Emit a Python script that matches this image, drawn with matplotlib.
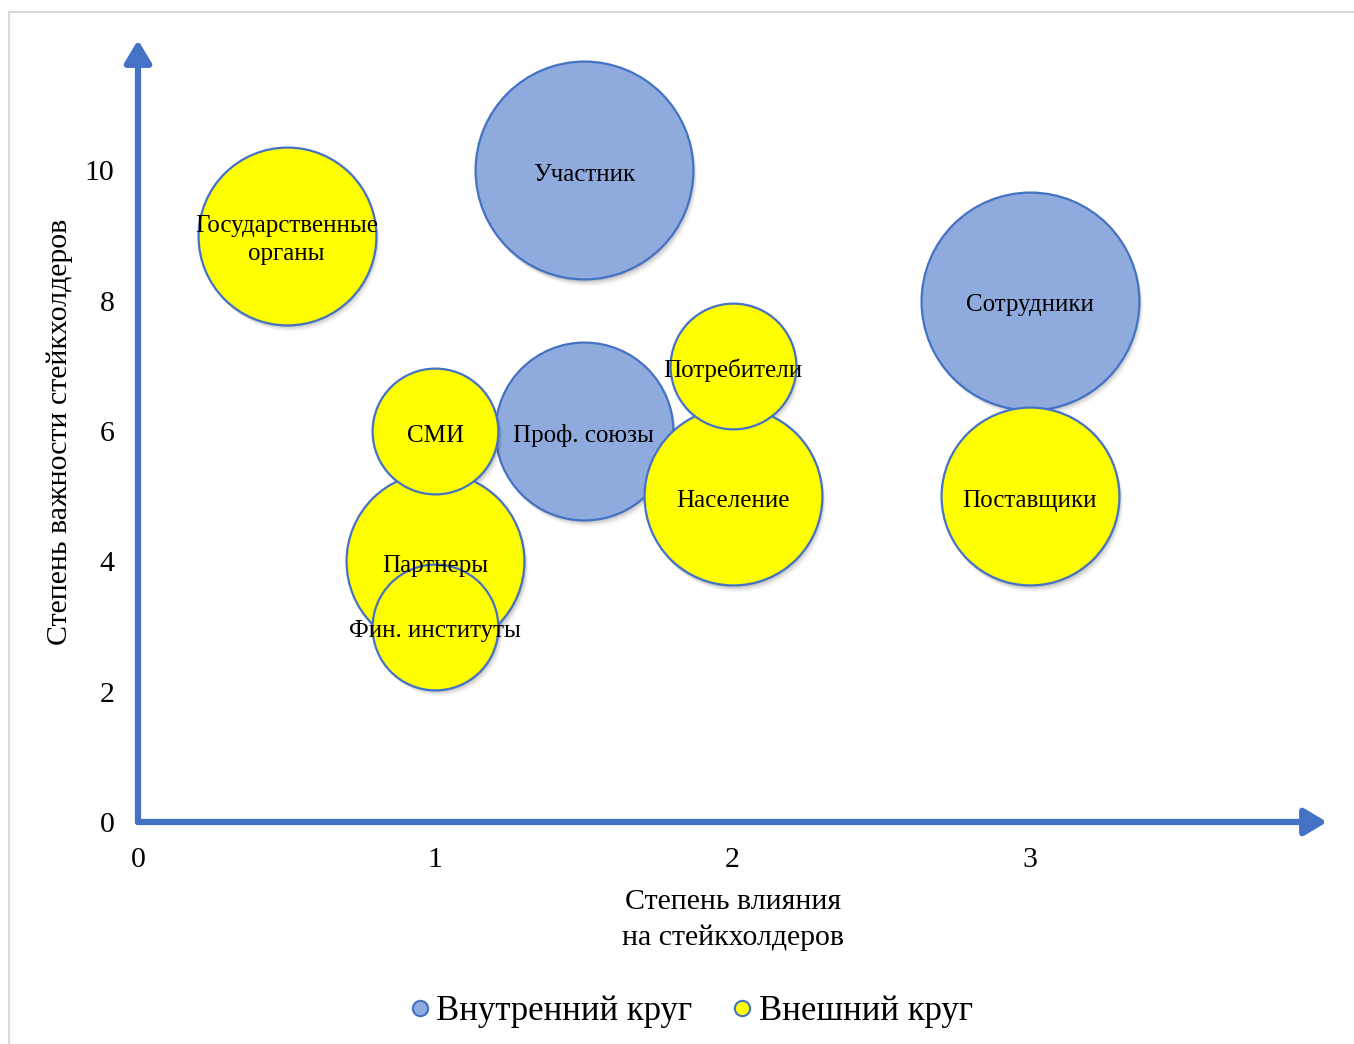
import matplotlib.pyplot as plt
import matplotlib.transforms as mtransforms
from matplotlib.patches import Rectangle
from matplotlib.lines import Line2D

plt.rcParams['font.family'] = ['Liberation Serif', 'DejaVu Serif']

# внутренний круг
inner_names = ['Участник', 'Сотрудники', 'Проф. союзы']
inner_x = [1.5, 3, 1.5]
inner_y = [10, 8, 6]
inner_size = [3, 3, 2]

# внешний круг
outer_names = ['Государственные\nорганы', 'Партнеры', 'Население', 'Поставщики',
               'СМИ', 'Потребители', 'Фин. институты']
outer_x = [0.5, 1, 2, 3, 1, 2, 1]
outer_y = [9, 4, 5, 5, 6, 7, 3]
outer_size = [2, 2, 2, 2, 1, 1, 1]

x_ticks = [0, 1, 2, 3]
y_ticks = [0, 2, 4, 6, 8, 10]

blue_fill = '#8FAADC'
blue_edge = '#4472C4'
yellow_fill = '#FFFF00'
scale = 8200

fig = plt.figure(figsize=(13.54, 10.44), dpi=100)
# серая рамка вокруг области диаграммы
fig.patches.append(Rectangle((9/1354, -0.1), 1.2, (1044-12)/1044 + 0.1, transform=fig.transFigure,
                             fill=False, edgecolor='#D9D9D9', lw=1.5))
ax = fig.add_axes([138/1354, (1044-822)/1044, 1189/1354, 782/1044])
ax.set_xlim(0, 4.0)
ax.set_ylim(0, 12)

def bubbles(xs, ys, sizes, fill, order):
    s = [v*scale for v in sizes]
    for k, a in enumerate([0.09, 0.07, 0.05, 0.03]):
        off = mtransforms.offset_copy(ax.transData, fig=fig, x=1.5+k, y=-(2.5+k*1.5), units='dots')
        ax.scatter(xs, ys, s=s, color='black', alpha=a, linewidths=0, transform=off, zorder=order)
    for i in range(len(xs)):
        ax.scatter(xs[i], ys[i], s=s[i], color=fill, edgecolors=blue_edge, linewidths=1.6,
                   zorder=order+0.01*(i+1))

bubbles(inner_x, inner_y, inner_size, blue_fill, 2)
bubbles(outer_x, outer_y, outer_size, yellow_fill, 3)

for n, x, y in zip(inner_names + outer_names, inner_x + outer_x, inner_y + outer_y):
    ax.text(x, y - 0.07, n, ha='center', va='center', fontsize=18, linespacing=1.4, zorder=5)

for s in ax.spines.values():
    s.set_visible(False)
ax.set_xticks(x_ticks)
ax.set_yticks(y_ticks)
ax.tick_params(length=0, labelsize=21.5, pad=0)
ax.tick_params(axis='x', pad=18)
ax.tick_params(axis='y', pad=17)
ax.set_facecolor('none')

# оси со стрелками
arrow = dict(arrowstyle='-|>,head_length=0.45,head_width=0.27', lw=4.5, color=blue_edge,
             mutation_scale=30, shrinkA=0, shrinkB=0)
ax.annotate('', xy=(1.0, 0), xytext=(0, 0), xycoords='axes fraction',
            arrowprops=arrow, annotation_clip=False, zorder=1)
ax.annotate('', xy=(0, 1.0), xytext=(0, 0), xycoords='axes fraction',
            arrowprops=arrow, annotation_clip=False, zorder=1)

fig.text(733/1354, 1 - 920/1044, 'Степень влияния\nна стейкхолдеров', ha='center', va='center',
         fontsize=21.5, linespacing=1.5)
fig.text(60/1354, 1 - 432/1044, 'Степень важности стейкхолдеров', ha='center', va='center',
         rotation=90, fontsize=21.5)

handles = [Line2D([], [], marker='o', ls='none', markersize=11, markerfacecolor=blue_fill,
                  markeredgecolor=blue_edge, markeredgewidth=1.5),
           Line2D([], [], marker='o', ls='none', markersize=11, markerfacecolor=yellow_fill,
                  markeredgecolor=blue_edge, markeredgewidth=1.5)]
fig.legend(handles, ['Внутренний круг', 'Внешний круг'], loc='center',
           bbox_to_anchor=(690/1354, 1 - 1012/1044), ncol=2, frameon=False, fontsize=25,
           handletextpad=0.12, columnspacing=1.1, handlelength=0.7)

plt.savefig('out.png', dpi=100)
